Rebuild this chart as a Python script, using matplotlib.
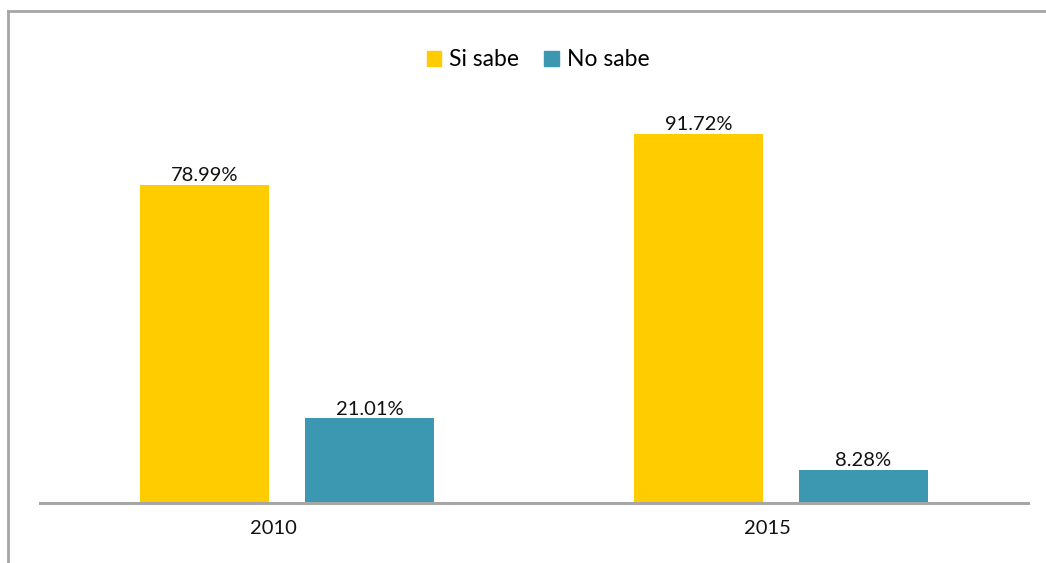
import matplotlib
matplotlib.use("Agg")
import matplotlib.pyplot as plt
import matplotlib.transforms as mtransforms
from matplotlib.lines import Line2D
from matplotlib.patches import Patch
import numpy as np

categories = ["2010", "2015"]
si_sabe = [78.99, 91.72]
no_sabe = [21.01, 8.28]
series_names = ["Si sabe", "No sabe"]
colors = ["#FFCC00", "#3C97B1"]

plt.rcParams['font.family'] = ['Lato', 'DejaVu Sans']

W, H = 1046, 563
fig = plt.figure(figsize=(W/100, H/100), dpi=100)

# figure border (top and left visible)
fig.add_artist(Line2D([8/W, 8/W], [0, 1 - 11/H], transform=fig.transFigure, color="#A6A6A6", lw=2))
fig.add_artist(Line2D([8/W, 1], [1 - 11/H, 1 - 11/H], transform=fig.transFigure, color="#A6A6A6", lw=2))

ax_left, ax_right = 40/W, 1028/W
ax_bottom, ax_top = 1 - 503/H, 1 - 100.5/H
ax = fig.add_axes([ax_left, ax_bottom, ax_right - ax_left, ax_top - ax_bottom])

x = np.arange(len(categories))
bw = 0.263
off = 0.167
b1 = ax.bar(x - off, si_sabe, bw, color=colors[0], label=series_names[0])
b2 = ax.bar(x + off, no_sabe, bw, color=colors[1], label=series_names[1])

for bars, vals in ((b1, si_sabe), (b2, no_sabe)):
    for r, v in zip(bars, vals):
        ax.annotate(f"{v:.2f}%", (r.get_x() + r.get_width()/2, v), xytext=(0, 0.5),
                    textcoords="offset points", ha="center", va="bottom",
                    fontsize=14.5, color="#111111")

ax.set_xlim(-0.5, 1.5)
ax.set_ylim(0, 100)
ax.set_xticks(x)
ax.set_xticklabels(categories, fontsize=14.5, color="#111111")
ax.tick_params(axis="x", length=0, pad=12)
shift = mtransforms.ScaledTranslation(-14/100, 0, fig.dpi_scale_trans)
for lab in ax.get_xticklabels():
    lab.set_transform(lab.get_transform() + shift)
ax.set_yticks([])
for s in ("top", "right", "left"):
    ax.spines[s].set_visible(False)
ax.spines["bottom"].set_color("#A6A6A6")
ax.spines["bottom"].set_linewidth(2.2)
ax.patch.set_visible(False)

handles = [Patch(color=c, label=n) for c, n in zip(colors, series_names)]
fig.legend(handles=handles, loc="center", bbox_to_anchor=(538/W, 1 - 60/H), ncol=2,
           frameon=False, fontsize=16.5, handlelength=0.62, handleheight=0.62,
           handletextpad=0.35, columnspacing=1.1)

fig.savefig("out.png", dpi=100)
